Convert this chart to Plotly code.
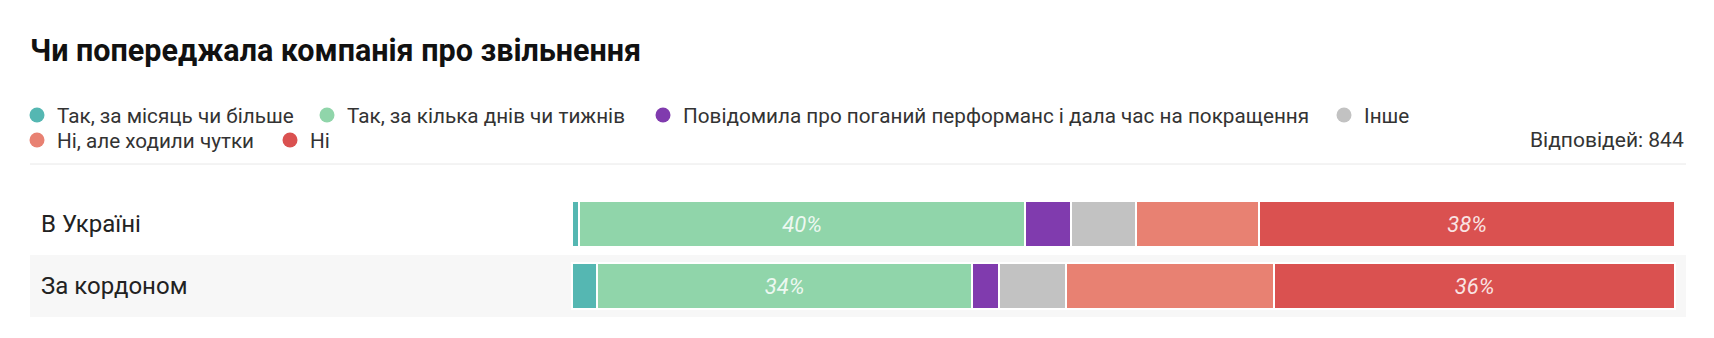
import plotly.graph_objects as go

# ---- data ----
categories = ["В Україні", "За кордоном"]
series_names = [
    "Так, за місяць чи більше",
    "Так, за кілька днів чи тижнів",
    "Повідомила про поганий перформанс і дала час на покращення",
    "Інше",
    "Ні, але ходили чутки",
    "Ні",
]
ukraine_values = [0.6, 40.5, 4.1, 5.9, 11.2, 37.7]
abroad_values = [2.3, 34.0, 2.4, 6.1, 18.8, 36.4]
title_text = "Чи попереджала компанія про звільнення"
responses_text = "Відповідей: 844"

# ---- styles ----
colors = ["#55b7b2", "#90d5aa", "#803bae", "#c2c2c2", "#e88172", "#da5150"]
W, H = 1714, 338
PL, PR = 563, 1668          # plot area in px
PT, PB = 185, 309
pw, ph = PR - PL, PB - PT

def px_x(p):
    return (p - PL) / pw

def px_y(p):
    return (PB - p) / ph

FONT = "Roboto, 'Noto Sans', sans-serif"

fig = go.Figure()

values_by_row = [ukraine_values, abroad_values]
for i, name in enumerate(series_names):
    vals = [row[i] for row in values_by_row]
    texts = [f"{round(v)}%" if v >= 20 else "" for v in vals]
    fig.add_trace(go.Bar(
        y=categories, x=vals, orientation="h", name=name,
        marker=dict(color=colors[i], line=dict(color="white", width=2)),
        text=texts, textposition="inside", insidetextanchor="middle",
        textangle=0, constraintext="none",
        textfont=dict(family=FONT, size=22, color="rgba(255,255,255,0.85)", style="italic"),
        showlegend=False, hoverinfo="skip", width=0.726,
    ))

# legend entries (circle markers), one small legend per entry for exact flow
legend_rows = [0, 0, 0, 0, 1, 1]
legend_box_x = [9, 299, 635, 1316, 9, 262]
row_center = [107, 132]
layout_legends = {}
for i, name in enumerate(series_names):
    key = "legend" if i == 0 else f"legend{i + 1}"
    fig.add_trace(go.Scatter(
        x=[None], y=[None], mode="markers", name=name,
        marker=dict(color=colors[i], size=15, symbol="circle"),
        legend=key, showlegend=True, hoverinfo="skip",
    ))
    layout_legends[key] = dict(
        orientation="h", xref="paper", yref="paper",
        x=px_x(legend_box_x[i]), xanchor="left",
        y=px_y(row_center[legend_rows[i]]), yanchor="middle",
        bgcolor="rgba(0,0,0,0)", borderwidth=0,
        font=dict(family=FONT, size=20.7, color="#333333"),
        itemclick=False, itemdoubleclick=False,
    )

shapes = [
    dict(type="rect", xref="paper", yref="y", x0=px_x(22), x1=px_x(1678),
         y0=0.5, y1=1.5, fillcolor="#f7f7f7", line=dict(width=0), layer="below"),
    dict(type="line", xref="paper", yref="paper", x0=px_x(22), x1=px_x(1678),
         y0=px_y(156), y1=px_y(156), line=dict(color="#e8e8e8", width=1)),
]

annotations = [
    dict(text=responses_text, xref="paper", yref="paper", x=px_x(1678), y=px_y(132),
         xanchor="right", yanchor="middle", showarrow=False,
         font=dict(family=FONT, size=21, color="#333333")),
]
for c in categories:
    annotations.append(dict(text=c, xref="paper", yref="y", x=px_x(31), y=c,
                            xanchor="left", yanchor="middle", showarrow=False,
                            font=dict(family=FONT, size=24, color="#222222")))

fig.update_layout(
    width=W, height=H,
    margin=dict(l=PL, r=W - PR, t=PT, b=H - PB, autoexpand=False),
    barmode="stack", bargap=0,
    paper_bgcolor="white", plot_bgcolor="rgba(0,0,0,0)",
    title=dict(text=f"<b>{title_text}</b>", xref="container", yref="container",
               x=22 / W, xanchor="left", y=1 - 42 / H, yanchor="middle",
               font=dict(family=FONT, size=30.5, color="#111111")),
    xaxis=dict(range=[-0.09, 100.09], visible=False, fixedrange=True),
    yaxis=dict(autorange="reversed", visible=False, fixedrange=True),
    shapes=shapes, annotations=annotations,
    **layout_legends,
)

fig.write_html("out.html")
